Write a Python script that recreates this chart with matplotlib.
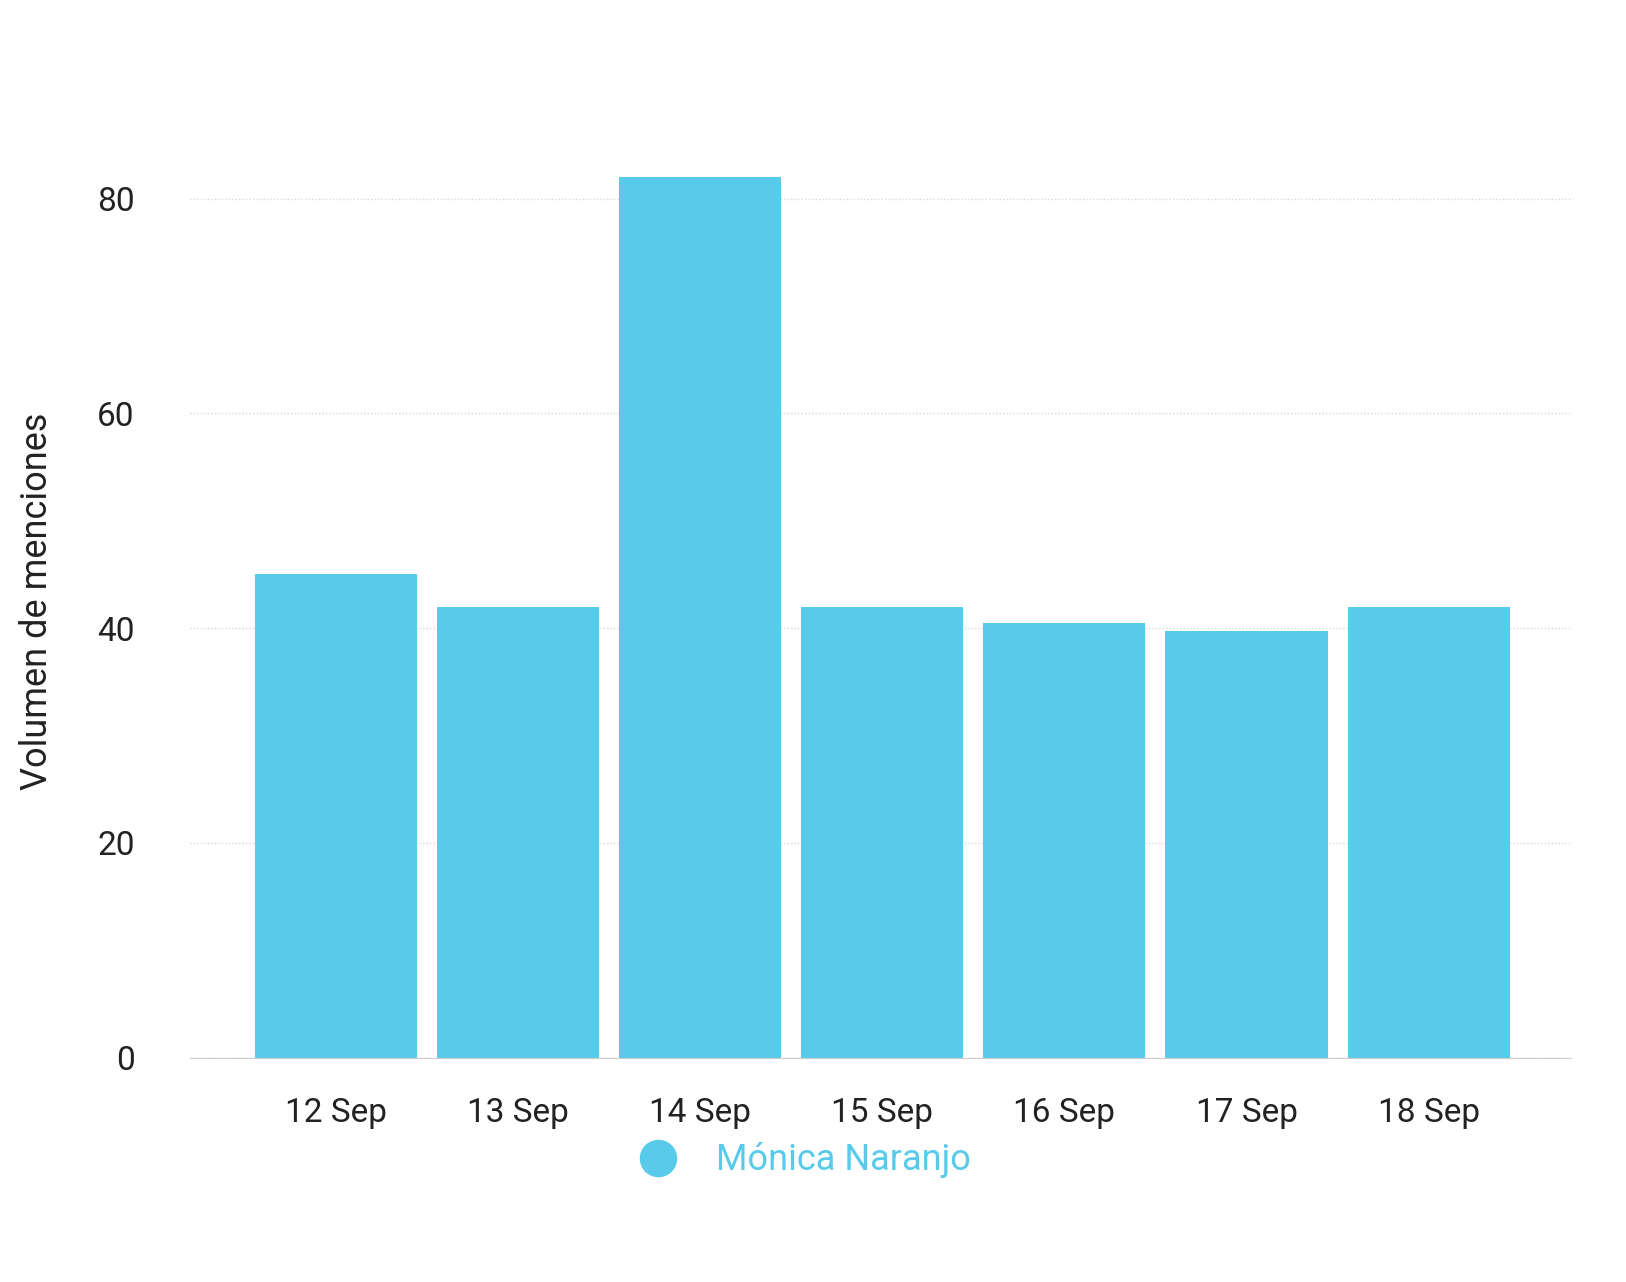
import matplotlib
matplotlib.use("Agg")
import matplotlib.pyplot as plt
from matplotlib.lines import Line2D

plt.rcParams['font.family'] = ['Roboto', 'DejaVu Sans']

categories = ["12 Sep", "13 Sep", "14 Sep", "15 Sep", "16 Sep", "17 Sep", "18 Sep"]
values = [45, 42, 82, 42, 40.5, 39.7, 42]
series_name = "Mónica Naranjo"
color = "#58CBEA"

fig = plt.figure(figsize=(16.26, 12.82), dpi=100)
ax = fig.add_axes([0.117, 0.175, 0.849, 0.712])
x = list(range(len(categories)))
ax.bar(x, values, width=0.89, color=color, zorder=2)
ax.set_xlim(-0.8, 6.78)
ax.set_ylim(0, 85)
ax.set_yticks([0, 20, 40, 60, 80])
ax.set_xticks(x)
ax.set_xticklabels(categories)
ax.tick_params(axis='both', length=0, labelsize=24, colors='#222222')
ax.tick_params(axis='x', pad=28)
ax.tick_params(axis='y', pad=40)
ax.grid(axis='y', color='#d8d8d8', linestyle=(0, (1, 1.5)), linewidth=1, zorder=0)
for s in ['top', 'right', 'left']:
    ax.spines[s].set_visible(False)
ax.spines['bottom'].set_color('#cccccc')
ax.set_ylabel("Volumen de menciones", fontsize=26, color='#222222', labelpad=30)

handle = Line2D([], [], marker='o', linestyle='none', markersize=26, color=color)
leg = fig.legend([handle], [series_name], loc='center', bbox_to_anchor=(0.49, 0.095),
                 frameon=False, fontsize=26, handletextpad=0.6)
for t in leg.get_texts():
    t.set_color(color)

fig.savefig("out.png", dpi=100, facecolor='white')
